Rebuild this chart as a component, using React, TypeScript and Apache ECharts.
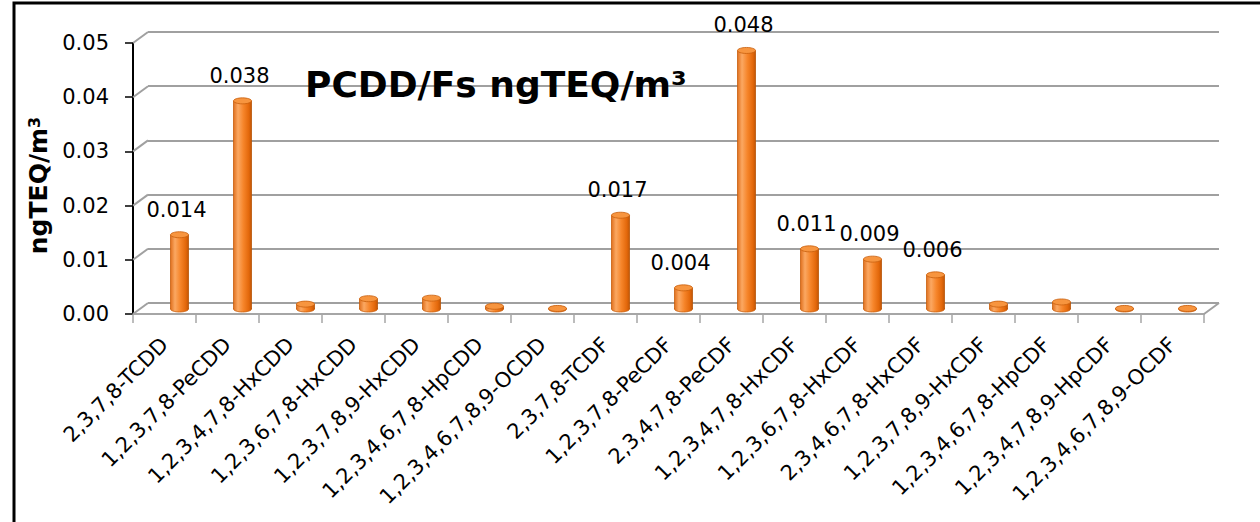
import React, { useEffect, useRef } from "react";
import * as echarts from "echarts";

const categories = [
  "2,3,7,8-TCDD",
  "1,2,3,7,8-PeCDD",
  "1,2,3,4,7,8-HxCDD",
  "1,2,3,6,7,8-HxCDD",
  "1,2,3,7,8,9-HxCDD",
  "1,2,3,4,6,7,8-HpCDD",
  "1,2,3,4,6,7,8,9-OCDD",
  "2,3,7,8-TCDF",
  "1,2,3,7,8-PeCDF",
  "2,3,4,7,8-PeCDF",
  "1,2,3,4,7,8-HxCDF",
  "1,2,3,6,7,8-HxCDF",
  "2,3,4,6,7,8-HxCDF",
  "1,2,3,7,8,9-HxCDF",
  "1,2,3,4,6,7,8-HpCDF",
  "1,2,3,4,7,8,9-HpCDF",
  "1,2,3,4,6,7,8,9-OCDF",
];

const values = [
  0.0137, 0.0384, 0.0009, 0.0019, 0.002, 0.0005, 0.0001, 0.0173, 0.0039,
  0.0477, 0.0111, 0.0092, 0.0063, 0.0009, 0.0013, 0.0001, 0.0001,
];

const yTicks = [0, 0.01, 0.02, 0.03, 0.04, 0.05];
const Y_MIN = 0;
const Y_MAX = 0.05;
const Y_STEP = 0.01;
const LABEL_MIN = 0.003;
const TITLE = "PCDD/Fs ngTEQ/m³";
const Y_NAME = "{a|ngTEQ/m}{b|3}";

const FONT = '"DejaVu Sans", sans-serif';

export default function App() {
  const ref = useRef<HTMLDivElement>(null);

  useEffect(() => {
    const chart = echarts.init(ref.current!, null, { renderer: "svg" });

    const barFill = () =>
      new echarts.graphic.LinearGradient(0, 0, 1, 0, [
        { offset: 0, color: "#e0701e" },
        { offset: 0.25, color: "#fba862" },
        { offset: 0.55, color: "#f6852a" },
        { offset: 0.85, color: "#e3680b" },
        { offset: 1, color: "#c25606" },
      ]);

    const option: any = {
      animation: false,
      backgroundColor: "#ffffff",
      grid: [
        { left: 133, top: 43, width: 1071, height: 271 },
        { left: 148, top: 32, width: 1071, height: 271 },
        { left: 148, top: 38, width: 1071, height: 271 },
      ],
      xAxis: [
        {
          gridIndex: 0,
          type: "category",
          data: categories,
          boundaryGap: true,
          axisLine: { show: true, lineStyle: { color: "#a6a6a6", width: 2 } },
          axisTick: {
            show: true,
            interval: 0,
            length: 9,
            lineStyle: { color: "#a6a6a6", width: 1.5 },
          },
          axisLabel: {
            interval: 0,
            rotate: 45,
            margin: 27,
            fontSize: 21,
            fontFamily: FONT,
            color: "#000",
          },
          splitLine: { show: false },
        },
        { gridIndex: 1, type: "category", data: categories, show: false },
        { gridIndex: 2, type: "category", data: categories, show: false },
      ],
      yAxis: [
        {
          gridIndex: 0,
          type: "value",
          min: Y_MIN,
          max: Y_MAX,
          interval: Y_STEP,
          axisLine: { show: true, lineStyle: { color: "#000", width: 2 } },
          axisTick: { show: true, length: 8, lineStyle: { color: "#000", width: 1.5 } },
          splitLine: { show: false },
          axisLabel: {
            formatter: (v: number) => v.toFixed(2),
            margin: 24,
            fontSize: 21,
            fontFamily: FONT,
            color: "#000",
          },
          name: Y_NAME,
          nameLocation: "middle",
          nameGap: 70,
          nameRotate: 90,
          nameTextStyle: {
            padding: [0, 14, 0, 0],
            rich: {
              a: { fontSize: 25, fontWeight: "bold", fontFamily: FONT, color: "#000" },
              b: {
                fontSize: 16,
                fontWeight: "bold",
                fontFamily: FONT,
                color: "#000",
                verticalAlign: "top",
              },
            },
          },
        },
        {
          gridIndex: 1,
          type: "value",
          min: Y_MIN,
          max: Y_MAX,
          interval: Y_STEP,
          axisLine: { show: false },
          axisTick: { show: false },
          axisLabel: { show: false },
          splitLine: { show: true, lineStyle: { color: "#a0a0a0", width: 2 } },
        },
        {
          gridIndex: 2,
          type: "value",
          min: Y_MIN,
          max: Y_MAX,
          interval: Y_STEP,
          show: false,
          splitLine: { show: false },
        },
      ],
      graphic: [
        {
          type: "rect",
          shape: { x: 14, y: 3, width: 1400, height: 700 },
          style: { fill: "none", stroke: "#000", lineWidth: 3 },
          silent: true,
          z: 100,
        },
        {
          type: "text",
          x: 305,
          y: 84,
          style: {
            text: TITLE,
            font: `bold 36px ${FONT}`,
            fill: "#000",
            verticalAlign: "middle",
          },
          z: 100,
        },
      ],
      series: [
        {
          type: "custom",
          name: "frame",
          xAxisIndex: 0,
          yAxisIndex: 0,
          silent: true,
          clip: false,
          z: 1,
          data: yTicks.map((v) => [0, v]),
          renderItem: (params: any, api: any) => {
            const v = api.value(1);
            const p = api.coord([0, v]);
            const half = api.size([1, 0])[0] / 2;
            const x0 = p[0] - half;
            const style = { stroke: "#a0a0a0", lineWidth: 2 };
            const children: any[] = [
              {
                type: "line",
                shape: { x1: x0, y1: p[1], x2: x0 + 15, y2: p[1] - 11 },
                style,
              },
            ];
            if (v === 0) {
              const q = api.coord([categories.length - 1, 0]);
              const x1 = q[0] + half;
              children.push({
                type: "line",
                shape: { x1: x1, y1: q[1], x2: x1 + 15, y2: q[1] - 11 },
                style,
              });
            }
            return { type: "group", children };
          },
        },
        {
          type: "custom",
          name: "PCDD/Fs",
          xAxisIndex: 2,
          yAxisIndex: 2,
          clip: false,
          z: 5,
          data: values.map((v, i) => [i, v]),
          renderItem: (params: any, api: any) => {
            const i = api.value(0);
            const v = api.value(1);
            const base = api.coord([i, 0]);
            const top = api.coord([i, v]);
            const w = 18;
            const rx = w / 2;
            const ry = 3;
            const x = base[0] - rx;
            const children: any[] = [
              {
                type: "ellipse",
                shape: { cx: base[0], cy: base[1], rx, ry },
                style: { fill: barFill(), stroke: "#c85e0c", lineWidth: 0.8 },
              },
              {
                type: "rect",
                shape: { x, y: top[1], width: w, height: Math.max(base[1] - top[1], 0) },
                style: { fill: barFill() },
              },
              {
                type: "line",
                shape: { x1: x, y1: top[1], x2: x, y2: base[1] },
                style: { stroke: "#c85e0c", lineWidth: 0.8 },
              },
              {
                type: "line",
                shape: { x1: x + w, y1: top[1], x2: x + w, y2: base[1] },
                style: { stroke: "#b85408", lineWidth: 0.8 },
              },
              {
                type: "ellipse",
                shape: { cx: top[0], cy: top[1], rx, ry },
                style: { fill: "#f7953f", stroke: "#c85e0c", lineWidth: 0.8 },
              },
            ];
            if (v >= LABEL_MIN) {
              children.push({
                type: "text",
                style: {
                  text: v.toFixed(3),
                  x: top[0] - 3,
                  y: top[1] - 25,
                  font: `21px ${FONT}`,
                  fill: "#000",
                  align: "center",
                  verticalAlign: "middle",
                },
              });
            }
            return { type: "group", children };
          },
        },
      ],
    };

    chart.setOption(option);
    return () => chart.dispose();
  }, []);

  return (
    <div
      ref={ref}
      style={{ position: "fixed", left: 0, top: 0, width: 1260, height: 522 }}
    />
  );
}
